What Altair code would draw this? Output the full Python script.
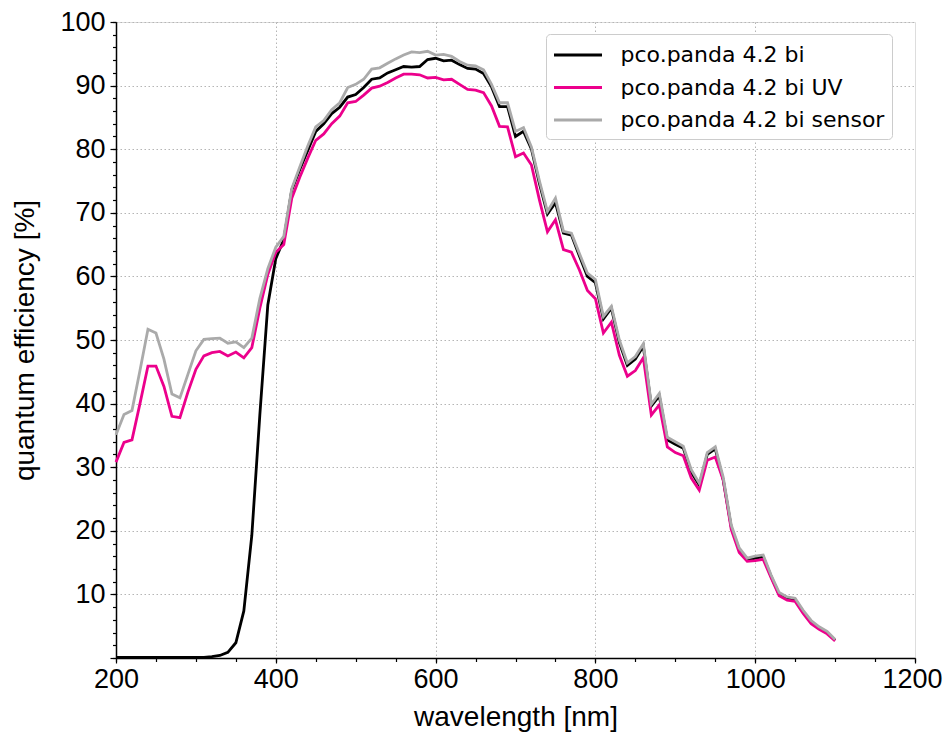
import altair as alt
import pandas as pd

wavelength = list(range(200, 1101, 10))

qe_bi = [
    0.1, 0.1, 0.1, 0.1, 0.1, 0.1, 0.1, 0.1, 0.1, 0.1,
    0.1, 0.1, 0.2, 0.4, 0.9, 2.4, 7.4, 19.3, 38.2, 55.5,
    62.8, 65.8, 73.6, 76.8, 79.8, 82.8, 84.0, 85.6, 86.6, 88.2,
    88.6, 89.7, 91.0, 91.2, 92.0, 92.5, 93.0, 92.9, 93.0, 94.1,
    94.3, 93.9, 94.0, 93.3, 92.7, 92.6, 91.9, 89.8, 86.7, 86.7,
    82.0, 82.8, 80.0, 74.6, 69.8, 71.6, 66.8, 66.5, 63.2, 60.0,
    59.0, 53.3, 55.0, 49.6, 46.0, 47.0, 49.0, 39.6, 41.2, 34.3,
    33.6, 33.0, 29.2, 27.2, 32.0, 32.9, 28.0, 20.6, 17.0, 15.4,
    15.7, 15.9, 12.8, 10.0, 9.4, 9.2, 7.3, 5.7, 4.7, 4.0,
    2.8,
]

qe_uv = [
    30.8, 33.9, 34.3, 40.0, 45.9, 45.9, 42.7, 38.0, 37.8, 41.8,
    45.4, 47.5, 48.0, 48.2, 47.5, 48.1, 47.2, 48.8, 55.0, 60.3,
    63.8, 65.0, 72.3, 75.6, 78.6, 81.4, 82.4, 84.0, 85.2, 87.3,
    87.5, 88.5, 89.6, 89.9, 90.5, 91.2, 91.8, 91.8, 91.7, 91.2,
    91.3, 90.9, 91.0, 90.2, 89.4, 89.3, 88.9, 86.8, 83.6, 83.5,
    78.8, 79.4, 77.5, 72.0, 67.0, 68.9, 64.2, 63.8, 61.0, 57.8,
    56.5, 51.1, 52.8, 47.6, 44.3, 45.2, 47.2, 38.2, 39.8, 33.2,
    32.3, 31.8, 28.3, 26.4, 31.1, 31.6, 28.0, 20.2, 16.6, 15.2,
    15.3, 15.5, 12.6, 9.8, 9.1, 8.9, 7.0, 5.4, 4.5, 3.8,
    2.7,
]

qe_sensor = [
    35.1, 38.3, 38.9, 45.2, 51.7, 51.1, 47.0, 41.5, 40.9, 44.6,
    48.3, 50.1, 50.2, 50.3, 49.5, 49.7, 48.8, 50.3, 56.5, 61.2,
    64.6, 66.3, 73.8, 77.2, 80.5, 83.5, 84.5, 86.2, 87.3, 89.7,
    90.2, 91.0, 92.6, 92.8, 93.5, 94.2, 94.8, 95.3, 95.2, 95.4,
    94.8, 94.9, 94.6, 93.8, 93.2, 93.1, 92.5, 90.2, 87.3, 87.3,
    82.8, 83.4, 80.3, 75.0, 70.2, 72.3, 67.1, 66.8, 63.6, 60.5,
    59.5, 53.7, 55.3, 50.0, 46.4, 47.4, 49.4, 39.9, 41.6, 34.7,
    34.0, 33.3, 29.6, 27.5, 32.3, 33.2, 28.4, 20.9, 17.3, 15.7,
    16.0, 16.2, 13.0, 10.3, 9.6, 9.4, 7.5, 5.9, 4.9, 4.2,
    2.9,
]

series_names = ["pco.panda 4.2 bi", "pco.panda 4.2 bi UV", "pco.panda 4.2 bi sensor"]
series_colors = ["#000000", "#ec008c", "#aaaaaa"]

x_major = [200, 400, 600, 800, 1000]
x_last = [1200]
x_minor = list(range(200, 1201, 50))
y_major = list(range(0, 101, 10))
y_minor = list(range(0, 101, 2))

rows = []
for order, (name, vals) in enumerate(zip(series_names, [qe_bi, qe_uv, qe_sensor])):
    for w, v in zip(wavelength, vals):
        rows.append({"wavelength": w, "qe": v, "series": name, "order": order})
df = pd.DataFrame(rows)

FONT = "Liberation Sans"

x_scale = alt.Scale(domain=[200, 1200], nice=False, zero=False)
y_scale = alt.Scale(domain=[0, 100], nice=False)

main = alt.Chart(df).mark_line(strokeWidth=2.8).encode(
    x=alt.X("wavelength:Q", scale=x_scale, axis=alt.Axis(
        orient="bottom", values=x_major, title="wavelength [nm]", format="d",
        labelFlush=False, labelOverlap=False, labelFont=FONT, labelFontSize=27,
        labelColor="black", labelPadding=3, tickSize=5, tickColor="black", tickWidth=1.2,
        domain=True, domainColor="black", domainWidth=1.5,
        grid=True, gridColor="#b5b5b5", gridDash=[1.5, 2.5], gridWidth=1,
        titleFont=FONT, titleFontSize=28, titleFontWeight="normal", titleColor="black",
        titleX=399.5, titleY=67, titleBaseline="alphabetic", titleAlign="center",
    )),
    y=alt.Y("qe:Q", scale=y_scale, axis=alt.Axis(
        orient="left", values=y_major, title="quantum efficiency [%]", format="d",
        labelExpr="datum.value > 0 ? datum.label : ''",
        labelFlush=False, labelOverlap=False, labelFont=FONT, labelFontSize=27,
        labelColor="black", labelPadding=5, tickSize=6, tickColor="black", tickWidth=1.2,
        domain=True, domainColor="black", domainWidth=1.5,
        grid=True, gridColor="#b5b5b5", gridDash=[1.5, 2.5], gridWidth=1,
        titleFont=FONT, titleFontSize=28, titleFontWeight="normal", titleColor="black",
        titleX=-83, titleY=318, titleBaseline="alphabetic", titleAlign="center", titleAngle=270,
    )),
    color=alt.Color("series:N", scale=alt.Scale(domain=series_names, range=series_colors),
                    legend=alt.Legend(
                        title=None, orient="none", legendX=430, legendY=12,
                        symbolType="M-2,0H2", symbolSize=576, symbolStrokeWidth=3,
                        symbolOffset=11,
                        labelFont="DejaVu Sans", labelFontSize=22, labelColor="black",
                        labelLimit=0, labelOffset=29, strokeColor="#cccccc", fillColor="white",
                        padding=7.5, cornerRadius=4, rowPadding=7.5,
                    )),
    order=alt.Order("order:Q"),
    detail="series:N",
)

minor = alt.Chart(df).mark_line(opacity=0).encode(
    x=alt.X("wavelength:Q", scale=x_scale, axis=alt.Axis(
        orient="bottom", values=x_minor, labels=False, title=None, domain=False,
        grid=False, tickSize=3.5, tickColor="black", tickWidth=1.2,
    )),
    y=alt.Y("qe:Q", scale=y_scale, axis=alt.Axis(
        orient="left", values=y_minor, labels=False, title=None, domain=False,
        grid=False, tickSize=3.5, tickColor="black", tickWidth=1.2,
    )),
    detail="series:N",
)

# last x label (1200) kept just inside the page edge
last = alt.Chart(df).mark_line(opacity=0).encode(
    x=alt.X("wavelength:Q", scale=x_scale, axis=alt.Axis(
        orient="bottom", values=x_last, format="d", title=None, domain=False, grid=False,
        labelFlush=False, labelOverlap=False, labelFont=FONT, labelFontSize=27,
        labelColor="black", labelPadding=3, labelAlign="right", labelOffset=27,
        tickSize=5, tickColor="black", tickWidth=1.2,
    )),
    y=alt.Y("qe:Q", scale=y_scale, axis=None),
    detail="series:N",
)

chart = alt.layer(minor, last, main).resolve_axis(x="independent", y="independent").properties(
    width=799, height=636,
    padding={"left": 108, "top": 14, "right": 28, "bottom": 74},
    autosize=alt.AutoSizeParams(type="none"),
).configure_view(stroke="#c4c4c4", strokeWidth=1.2).configure(background="white")

chart.save("out.html", embed_options={"renderer": "svg", "actions": False})
